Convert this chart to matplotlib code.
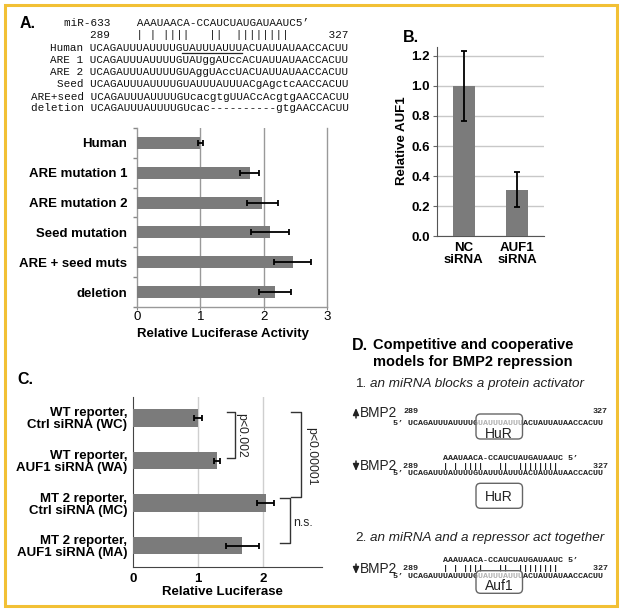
import matplotlib
matplotlib.use('Agg')
import matplotlib.pyplot as plt
from matplotlib.patches import Rectangle, FancyBboxPatch, FancyArrowPatch
import numpy as np

plt.rcParams['font.family'] = ['Liberation Sans', 'DejaVu Sans']

W, H = 624, 613
fig = plt.figure(figsize=(W / 100, H / 100), dpi=100)
fig.patch.set_facecolor('white')

# ---------------- data ----------------
a_labels = ['Human', 'ARE mutation 1', 'ARE mutation 2', 'Seed mutation',
            'ARE + seed muts', 'deletion']
a_values = [1.0, 1.78, 1.98, 2.10, 2.46, 2.18]
a_errors = [0.04, 0.15, 0.25, 0.30, 0.29, 0.25]
a_ticks = [0, 1, 2, 3]

b_labels = ['NC\nsiRNA', 'AUF1\nsiRNA']
b_values = [1.0, 0.31]
b_errors = [0.235, 0.115]
b_ticks = [0.0, 0.2, 0.4, 0.6, 0.8, 1.0, 1.2]

c_labels = ['WT reporter,\nCtrl siRNA (WC)', 'WT reporter,\nAUF1 siRNA (WA)',
            'MT 2 reporter,\nCtrl siRNA (MC)', 'MT 2 reporter,\nAUF1 siRNA (MA)']
c_values = [1.0, 1.30, 2.04, 1.68]
c_errors = [0.065, 0.045, 0.135, 0.255]
c_ticks = [0, 1, 2]

mir = "AAAUAACA-CCAUCUAUGAUAAUC"
pairs = "| | ||||   ||  ||||||||"
seq_names = ['Human', 'ARE 1', 'ARE 2', 'Seed', 'ARE+seed', 'deletion']
seqs = ["UCAGAUUUAUUUUGUAUUUAUUUACUAUUAUAACCACUU",
        "UCAGAUUUAUUUUGUAUggAUccACUAUUAUAACCACUU",
        "UCAGAUUUAUUUUGUAggUAccUACUAUUAUAACCACUU",
        "UCAGAUUUAUUUUGUAUUUAUUUACgAgctcAACCACUU",
        "UCAGAUUUAUUUUGUcacgtgUUACcAcgtgAACCACUU",
        "UCAGAUUUAUUUUGUcac----------gtgAACCACUU"]

barc = '#7b7b7b'
ekw = dict(ecolor='black', elinewidth=1.3, capsize=2.3, capthick=1.3)


def fx(x):
    return x / W


def fy(y):
    return 1 - y / H


def T(x, y, s, **kw):
    return fig.text(fx(x), fy(y), s, **kw)


# ---------------- frame ----------------
fig.add_artist(Rectangle((5 / 100, (H - 606) / 100), 612 / 100, 601 / 100,
                         transform=fig.dpi_scale_trans, fill=False,
                         edgecolor='#F2C035', lw=2.2, zorder=0))

# ---------------- panel letters ----------------
for lab, x, y in [('A.', 20, 23), ('B.', 403, 38), ('C.', 17, 379), ('D.', 352, 345)]:
    T(x, y, lab, fontsize=11.5, fontweight='bold', ha='left', va='center')

# ---------------- panel A sequences ----------------
monoA = dict(family=['Liberation Mono', 'DejaVu Sans Mono'], fontsize=7.92,
             color='#111111', ha='left', va='center')
x0, cw = 30.6, 6.6
T(x0 + 5 * cw, 23, "miR-633" + " " * 4 + mir + "5\u2019", **monoA)
T(x0 + 9 * cw, 35, "289" + " " * 4 + pairs + " " * 6 + "327", **monoA)
ys = [47.7, 60, 71.7, 84.3, 96.7, 108.3]
for name, s, y in zip(seq_names, seqs, ys):
    lead = 8 - len(name)
    T(x0 + lead * cw, y, name + " " + s, **monoA)
# underline on the Human ARE
fig.add_artist(plt.Line2D([fx(x0 + 23 * cw), fx(x0 + 32 * cw)], [fy(52.8), fy(52.8)],
                          transform=fig.transFigure, color='#222', lw=0.9))

# ---------------- panel A chart ----------------
axA = fig.add_axes([fx(137), fy(307), (327 - 137) / W, (307 - 128) / H])
ya = np.arange(len(a_labels))
axA.barh(ya, a_values, height=0.4, color=barc, xerr=a_errors, error_kw=ekw, zorder=3)
axA.set_xlim(0, 3)
axA.set_ylim(5.5, -0.5)
axA.set_xticks(a_ticks)
axA.set_xticklabels([str(t) for t in a_ticks], fontsize=9.5)
axA.set_yticks(ya)
axA.set_yticklabels(a_labels, fontsize=9.5, fontweight='bold')
axA.set_yticks(np.arange(-0.5, 6, 1), minor=True)
axA.tick_params(axis='y', which='major', length=0, pad=7)
axA.tick_params(axis='y', which='minor', length=3, color='#888', width=1)
axA.tick_params(axis='x', length=2, color='#888', pad=1)
for v in a_ticks[1:3]:
    axA.axvline(v, color='#999', lw=1, zorder=1)
axA.spines['top'].set_visible(False)
for sp in ['left', 'bottom', 'right']:
    axA.spines[sp].set_color('#999')
    axA.spines[sp].set_linewidth(1)
T(223, 334, 'Relative Luciferase Activity', fontsize=9.5, fontweight='bold',
  ha='center', va='center')

# ---------------- panel B ----------------
axB = fig.add_axes([fx(437), fy(236), (544 - 437) / W, (236 - 47) / H])
xb = np.arange(len(b_labels))
axB.bar(xb, b_values, width=0.42, color=barc, yerr=b_errors, error_kw=ekw, zorder=3)
axB.set_xlim(-0.5, 1.5)
axB.set_ylim(0, 1.26)
axB.set_yticks(b_ticks)
axB.set_yticklabels(['%.1f' % t for t in b_ticks], fontsize=9.5, fontweight='bold')
axB.set_xticks(xb)
axB.set_xticklabels(b_labels, fontsize=9.5, fontweight='bold', linespacing=1.05)
axB.tick_params(axis='x', length=0, pad=4)
axB.tick_params(axis='y', length=3, color='#666', pad=2)
axB.yaxis.grid(True, color='#c8c8c8', lw=1)
axB.set_axisbelow(True)
for sp in ['top', 'right']:
    axB.spines[sp].set_visible(False)
for sp in ['left', 'bottom']:
    axB.spines[sp].set_color('#555')
T(402, 141, 'Relative AUF1', fontsize=9.5, fontweight='bold', rotation=90,
  ha='center', va='center')

# ---------------- panel C ----------------
axC = fig.add_axes([fx(132.7), fy(567), (321.7 - 132.7) / W, (567 - 396.7) / H])
yc = np.arange(len(c_labels))
axC.barh(yc, c_values, height=0.41, color=barc, xerr=c_errors, error_kw=ekw, zorder=3)
axC.set_xlim(0, 2.9)
axC.set_ylim(3.5, -0.5)
axC.set_xticks(c_ticks)
axC.set_xticklabels([str(t) for t in c_ticks], fontsize=9.5, fontweight='bold')
axC.set_yticks(yc)
axC.set_yticklabels(c_labels, fontsize=9.5, fontweight='bold', linespacing=1.0)
axC.tick_params(axis='y', length=0, pad=4)
axC.tick_params(axis='x', length=0, pad=4)
for v in c_ticks[1:]:
    axC.axvline(v, color='#cfcfcf', lw=1, zorder=1)
for sp in ['top', 'right']:
    axC.spines[sp].set_visible(False)
for sp in ['left', 'bottom']:
    axC.spines[sp].set_color('#444')
T(222, 592, 'Relative Luciferase', fontsize=9.5, fontweight='bold', ha='center', va='center')


def bracket(ax, y0, y1, xv, xh):
    ax.plot([xh, xv, xv, xh], [y0, y0, y1, y1], color='#333', lw=1, clip_on=False)


bracket(axC, -0.15, 0.95, 1.567, 1.44)
bracket(axC, -0.15, 1.85, 2.588, 2.435)
bracket(axC, 1.885, 2.94, 2.42, 2.255)
axC.text(1.66, 0.40, 'p<0.002', rotation=270, fontsize=8.8, ha='center', va='center',
         color='#222', clip_on=False)
axC.text(2.74, 0.89, 'p<0.00001', rotation=270, fontsize=8.8, ha='center', va='center',
         color='#222', clip_on=False)
axC.text(2.61, 2.47, 'n.s.', fontsize=8.8, ha='center', va='center', color='#222',
         clip_on=False)

# ---------------- panel D ----------------
T(373, 345, 'Competitive and cooperative', fontsize=10.5, fontweight='bold', va='center')
T(373, 362, 'models for BMP2 repression', fontsize=10.5, fontweight='bold', va='center')
T(355, 384, '1.', fontsize=9.7, va='center', color='#222')
T(370, 384, 'an miRNA blocks a protein activator', fontsize=9.7, style='italic',
  va='center', color='#222')
T(355, 538, '2.', fontsize=9.7, va='center', color='#222')
T(370, 538, 'an miRNA and a repressor act together', fontsize=9.7, style='italic',
  va='center', color='#222')

monoD = dict(family=['Liberation Mono', 'DejaVu Sans Mono'], fontsize=6.0,
             fontweight='bold', color='#222', ha='left', va='center')
xd = 393
seqD = "5\u2019 " + seqs[0]
pairline = "289" + " " * 5 + pairs + " " * 7 + "327"
mirline = mir + " 5\u2019"

rows = [  # (direction, bmp y, mir y, pair y, seq y, box y0, box y1, label, label y)
    (1, 413, None, 411.7, 423.3, 414, 439, 'HuR', 433.5),
    (-1, 466, 458.3, 466, 473.3, 483.3, 508.3, 'HuR', 497),
    (-1, 569, 560, 568.3, 576, 570.7, 593.3, 'Auf1', 586),
]
for d, yb, ym, yp, ysq, by0, by1, lab, ly in rows:
    ya0, ya1 = (yb + 5, yb - 5) if d > 0 else (yb - 5, yb + 5)
    fig.add_artist(FancyArrowPatch((fx(356), fy(ya0)), (fx(356), fy(ya1)),
                                   transform=fig.transFigure,
                                   arrowstyle='-|>,head_length=0.5,head_width=0.22',
                                   mutation_scale=8, color='#222', lw=1.1,
                                   shrinkA=0, shrinkB=0))
    T(360, yb, 'BMP2', fontsize=9.8, ha='left', va='center', color='#222')
    if ym is None:
        T(xd + 2 * 5.0, yp, "289", **monoD)
        T(xd + 40 * 5.0, yp, "327", **monoD)
    else:
        T(xd + 10 * 5.0, ym, mirline, **monoD)
        T(xd + 2 * 5.0, yp, pairline, **monoD)
    T(xd, ysq, seqD, **monoD)
    fig.add_artist(FancyBboxPatch((476 / 100, (H - by1) / 100), 46.5 / 100, (by1 - by0) / 100,
                                  boxstyle='round,pad=0,rounding_size=0.045',
                                  transform=fig.dpi_scale_trans,
                                  facecolor=(1, 1, 1, 0.65), edgecolor='#666', lw=1, zorder=4))
    t = T(499.2, ly, lab, fontsize=10, ha='center', va='center', color='#222')
    t.set_zorder(5)

fig.savefig('out.png', dpi=100)
